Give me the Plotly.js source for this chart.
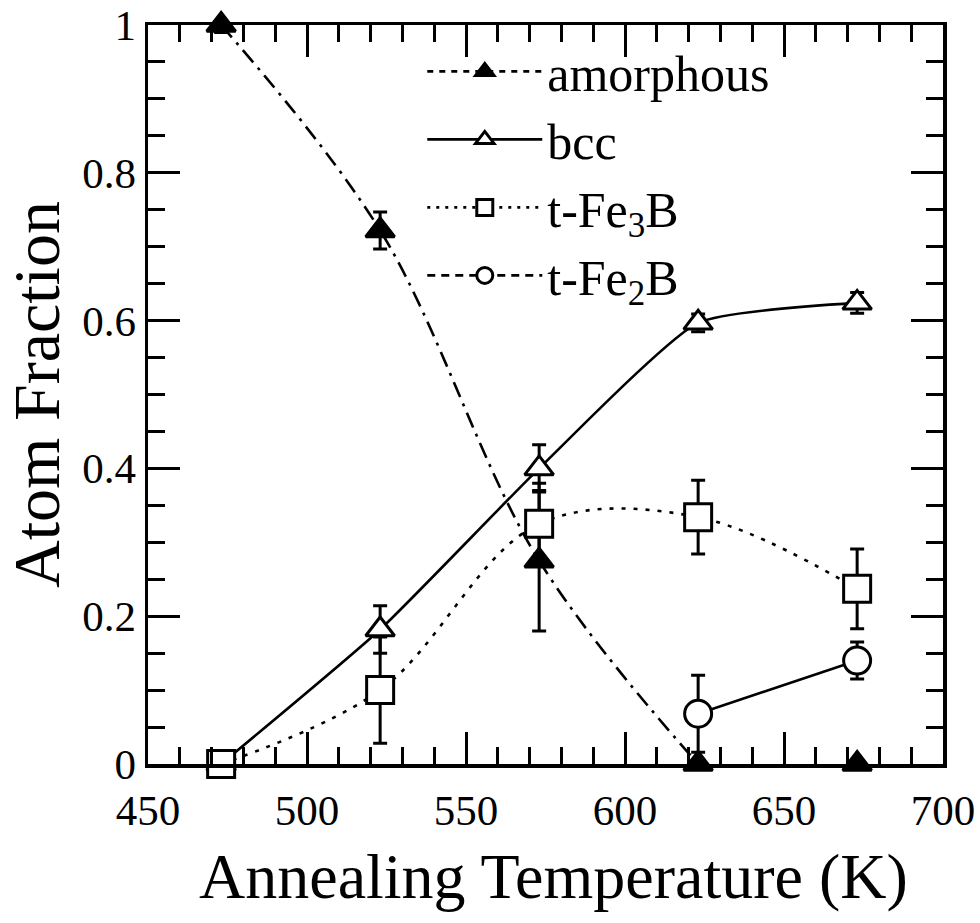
<!DOCTYPE html>
<html>
<head>
<meta charset="utf-8">
<script src="https://cdn.plot.ly/plotly-3.0.1.min.js"></script>
<style>html,body{margin:0;padding:0;background:#fff;}#plot{width:980px;height:923px;}</style>
</head>
<body>
<div id="plot"></div>
<script>
// Annealing temperatures (K)
const temps = [473, 523, 573, 623, 673];
// Atom fractions
const amorphous = [1.0, 0.722, 0.275, 0.0, 0.0];
const amorphousErr = [0.01, 0.025, 0.095, 0.0, 0.0];
const bcc = [0.0, 0.182, 0.40, 0.597, 0.624];
const bccErr = [0.01, 0.032, 0.032, 0.012, 0.014];
const fe3b = [0.0, 0.10, 0.325, 0.334, 0.237];
const fe3bErr = [0.015, 0.072, 0.055, 0.05, 0.054];
const fe2bTemps = [623, 673];
const fe2b = [0.068, 0.14];
const fe2bErr = [0.052, 0.025];
// Series names and axis titles
const names = ['amorphous', 'bcc', 't-Fe<sub>3</sub>B', 't-Fe<sub>2</sub>B'];
const xTitle = 'Annealing Temperature (K)';
const yTitle = 'Atom Fraction';

const font = 'Liberation Serif';
const lw = 2.6;
const mline = {color: 'black', width: 3};
const errStyle = {color: 'black', thickness: 3, width: 7};

const traces = [
  // amorphous
  {x: temps.slice(0, 4), y: amorphous.slice(0, 4), mode: 'lines', line: {color: 'black', width: lw, dash: '16px,7px,3px,7px', shape: 'spline', smoothing: 1}, showlegend: false, hoverinfo: 'skip'},
  {x: temps, y: amorphous, mode: 'markers', name: names[0], showlegend: false,
   marker: {symbol: 'triangle-up', size: 25, color: 'black', line: mline},
   error_y: Object.assign({type: 'data', array: amorphousErr, visible: true}, errStyle), cliponaxis: false},
  // bcc
  {x: temps, y: bcc, mode: 'lines+markers', name: names[1], showlegend: false,
   line: {color: 'black', width: lw, shape: 'spline', smoothing: 0.5},
   marker: {symbol: 'triangle-up', size: 25, color: 'white', line: mline},
   error_y: Object.assign({type: 'data', array: bccErr, visible: true}, errStyle), cliponaxis: false},
  // t-Fe3B
  {x: temps, y: fe3b, mode: 'lines+markers', name: names[2], showlegend: false,
   line: {color: 'black', width: lw, dash: '4px,8px', shape: 'spline', smoothing: 1},
   marker: {symbol: 'square', size: 27, color: 'white', line: mline},
   error_y: Object.assign({type: 'data', array: fe3bErr, visible: true}, errStyle), cliponaxis: false},
  // t-Fe2B
  {x: fe2bTemps, y: fe2b, mode: 'lines+markers', name: names[3], showlegend: false,
   line: {color: 'black', width: lw},
   marker: {symbol: 'circle', size: 27, color: 'white', line: mline},
   error_y: Object.assign({type: 'data', array: fe2bErr, visible: true}, errStyle), cliponaxis: false},
  // legend-only entries
  {x: [null], y: [null], mode: 'lines+markers', name: names[0], line: {color: 'black', width: lw, dash: '6px,6px'},
   marker: {symbol: 'triangle-up', size: 25, color: 'black', line: mline}},
  {x: [null], y: [null], mode: 'lines+markers', name: names[1], line: {color: 'black', width: lw},
   marker: {symbol: 'triangle-up', size: 25, color: 'white', line: mline}},
  {x: [null], y: [null], mode: 'lines+markers', name: names[2], line: {color: 'black', width: lw, dash: '3px,6px'},
   marker: {symbol: 'square', size: 27, color: 'white', line: mline}},
  {x: [null], y: [null], mode: 'lines+markers', name: names[3], line: {color: 'black', width: lw, dash: '8px,6px'},
   marker: {symbol: 'circle', size: 27, color: 'white', line: mline}}
];

const axisBase = {
  showline: true, linecolor: 'black', linewidth: 3.5, mirror: 'allticks',
  ticks: 'inside', ticklen: 32, tickwidth: 3, tickcolor: 'black',
  showgrid: false, zeroline: false,
  tickfont: {family: font, size: 43, color: 'black'}
};

const layout = {
  width: 980, height: 923,
  margin: {l: 148, r: 37, t: 25, b: 159},
  paper_bgcolor: 'white', plot_bgcolor: 'white',
  font: {family: font, color: 'black'},
  showlegend: true,
  legend: {x: 0.345, y: 0.99, xanchor: 'left', yanchor: 'top', bgcolor: 'rgba(0,0,0,0)',
           font: {family: font, size: 50, color: 'black'}, itemwidth: 115, tracegroupgap: 0},
  xaxis: Object.assign({}, axisBase, {
    range: [450, 700], tick0: 450, dtick: 50, ticklabelstandoff: 6,
    minor: {dtick: 10, ticklen: 17, tickwidth: 3, tickcolor: 'black', ticks: 'inside'}
  }),
  yaxis: Object.assign({}, axisBase, {
    range: [0, 1], tick0: 0, dtick: 0.2,
    minor: {dtick: 0.05, ticklen: 17, tickwidth: 3, tickcolor: 'black', ticks: 'inside'},
    tickvals: [0, 0.2, 0.4, 0.6, 0.8, 1], ticktext: ['0', '0.2', '0.4', '0.6', '0.8', '1'],
    title: {text: yTitle, font: {family: font, size: 66, color: 'black'}, standoff: 14}
  }),
  annotations: [
    {text: xTitle, xref: 'paper', yref: 'paper', x: 0.51, y: -0.152, xanchor: 'center', yanchor: 'middle',
     showarrow: false, font: {family: font, size: 64, color: 'black'}}
  ]
};

Plotly.newPlot('plot', traces, layout, {displayModeBar: false, staticPlot: true});
</script>
</body>
</html>
